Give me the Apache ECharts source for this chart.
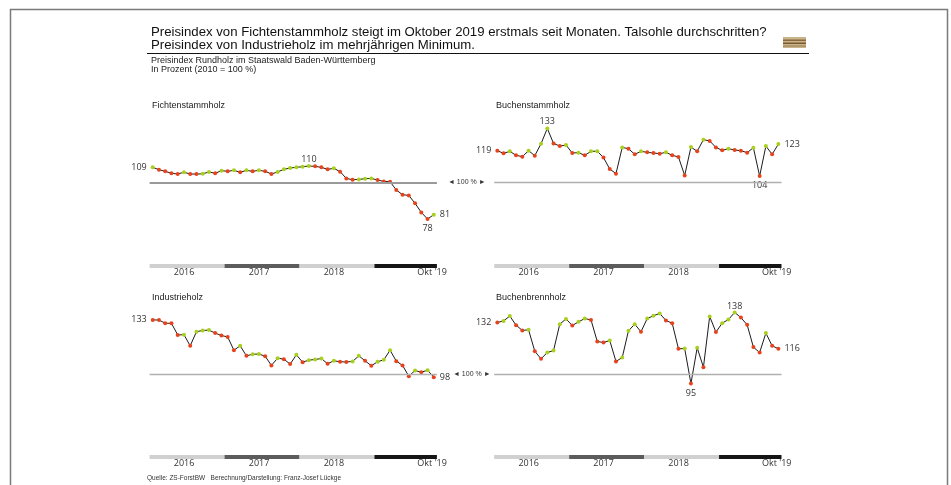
<!DOCTYPE html>
<html>
<head>
<meta charset="utf-8">
<script src="https://cdn.jsdelivr.net/npm/echarts@6/dist/echarts.min.js"></script>
<style>
html,body{margin:0;padding:0;background:#fff;}
#chart{width:951px;height:485px;}
</style>
</head>
<body>
<div id="chart"></div>
<script>
// Jahres-Balken unter den Kurven
var years = ['2016', '2017', '2018', "Okt '19"];
var yearMonths = [12, 12, 12, 10];
var yearColors = ['#d0d0d0', '#5c5c5c', '#d0d0d0', '#151515'];

// Preisindex (2010 = 100), Jan 2016 - Okt 2019
var fichte = [109.3,107.9,106.9,105.7,105.3,106.3,105.3,105.2,105.4,106.5,
	105.7,107.3,106.9,107.5,106.3,107.5,106.9,107.5,106.9,105.3,
	106.5,108.1,108.9,109.3,109.7,110.1,109.9,109.3,108.1,108.7,
	106.7,102.6,101.8,102.0,102.4,102.6,101.6,100.8,100.6,95.6,
	92.7,92.3,87.5,82.0,78.0,80.6];
var buchenstamm = [119.4,117.8,119.0,116.6,115.8,119.4,116.4,123.6,132.9,123.8,
	122.2,122.8,118.0,118.2,116.6,119.0,119.1,115.2,108.3,105.5,
	121.4,120.6,117.2,119.0,118.4,118.0,117.6,118.4,116.6,115.6,
	104.4,121.6,119.0,126.1,125.3,121.4,119.6,120.6,119.8,119.4,
	118.2,121.2,104.0,122.2,117.2,123.4];
var industrie = [133.1,133.0,131.1,131.0,124.0,124.1,117.4,125.9,126.7,126.9,
	125.1,123.6,122.8,114.7,117.4,111.3,112.3,112.4,111.1,105.5,
	109.9,109.3,106.3,111.9,107.5,108.7,109.1,109.7,106.5,108.3,
	107.7,107.6,107.9,111.3,108.3,105.3,107.7,108.9,114.7,108.1,
	105.5,99.0,102.4,101.4,102.6,98.4];
var brennholz = [131.5,132.5,135.4,129.9,126.7,127.1,114.1,109.5,113.3,114.5,
	130.5,133.7,129.7,131.9,133.9,133.1,120.0,119.4,120.6,107.9,
	110.3,126.5,130.5,125.9,133.9,135.6,137.0,132.7,131.1,115.6,
	115.7,94.5,116.2,104.4,135.2,125.7,131.1,133.3,137.6,134.5,
	130.1,116.6,113.3,125.1,117.4,115.6];

// erster Punkt: gestiegen gegenueber Vormonat?
var firstUp = [true, false, false, false];
// beschriftete Punkte [index, position]
var fichteLabels = [[0,'left'],[25,'top'],[44,'bottom'],[45,'right']];
var buchenstammLabels = [[0,'left'],[8,'top'],[42,'bottom'],[45,'right']];
var industrieLabels = [[0,'left'],[45,'right']];
var brennholzLabels = [[0,'left'],[38,'top'],[31,'bottom'],[45,'right']];

var panelNames = ['Fichtenstammholz', 'Buchenstammholz', 'Industrieholz', 'Buchenbrennholz'];

var months = [];
for (var y = 0; y < years.length; y++) {
	for (var m = 1; m <= yearMonths[y]; m++) {
		months.push((2016 + y) + '-' + m);
	}
}

var GREEN = '#a8d01c', RED = '#e8421c';
var numFont = '"Open Sans", "Liberation Sans", sans-serif';
var txtFont = '"Liberation Sans", Arial, sans-serif';

var panelLeft = [149.6, 494.2, 149.6, 494.2];
var panelTop = [116.7, 116.7, 308.5, 308.5];
var barTop = [264, 264, 455, 455];
var panelW = 287.3, panelH = 115.5;

function $each(arr, fn){ for (var i = 0; i < arr.length; i++) fn(arr[i], i); }

function buildData(values, up0, labels) {
	var out = [];
	var lab = {};
	$each(labels, function(l){ lab[l[0]] = l[1]; });
	for (var i = 0; i < values.length; i++) {
		var up = i == 0 ? up0 : values[i] > values[i-1];
		var item = {value: values[i], itemStyle: {color: up ? GREEN : RED}};
		if (lab[i] != null) {
			var d = 3;
			if (lab[i] == 'left' || lab[i] == 'right') d = 4;
			if (lab[i] == 'top') d = 0;
			item.label = {show: true, position: lab[i], distance: d};
		}
		out.push(item);
	}
	return out;
}

var allData = [fichte, buchenstamm, industrie, brennholz];
var allLabels = [fichteLabels, buchenstammLabels, industrieLabels, brennholzLabels];

var grid = [], xAxis = [], yAxis = [], series = [];
$each(allData, function(values, i){
	grid.push({left: panelLeft[i], top: panelTop[i], width: panelW, height: panelH});
	xAxis.push({gridIndex: i, type: 'category', data: months, boundaryGap: true, show: false});
	yAxis.push({gridIndex: i, type: 'value', min: 70, max: 140, show: false});
	series.push({
		name: panelNames[i],
		type: 'line',
		xAxisIndex: i,
		yAxisIndex: i,
		data: buildData(values, firstUp[i], allLabels[i]),
		symbol: 'circle',
		symbolSize: 4,
		showAllSymbol: true,
		lineStyle: {color: '#1c1c1c', width: 1},
		label: {
			show: false,
			fontFamily: numFont,
			fontSize: 9,
			color: '#333',
			formatter: function(p){ return Math.round(p.value); }
		},
		markLine: {
			silent: true,
			symbol: ['none', 'none'],
			label: {show: false},
			lineStyle: {color: i == 0 ? '#9a9a9a' : '#b0b0b0', width: i == 0 ? 2 : 1.3, type: 'solid'},
			data: [{yAxis: 100}]
		},
		z: 3
	});
});

// Jahresbalken
$each(allData, function(values, i){
	var gi = 4 + i;
	grid.push({left: panelLeft[i], top: barTop[i], width: panelW, height: 4});
	xAxis.push({gridIndex: gi, type: 'value', min: 0, max: months.length, show: false});
	yAxis.push({gridIndex: gi, type: 'category', data: ['Jahr'], show: false});
	$each(years, function(yr, k){
		var last = k == years.length - 1;
		series.push({
			name: yr,
			type: 'bar',
			xAxisIndex: gi,
			yAxisIndex: gi,
			stack: 'jahr' + i,
			barWidth: 4,
			data: [yearMonths[k]],
			itemStyle: {color: yearColors[k]},
			label: {
				show: true,
				formatter: yr,
				position: last ? ['100%', '100%'] : 'bottom',
				align: last ? 'right' : 'center',
				verticalAlign: 'top',
				offset: last ? [10, 0] : [-3, 0],
				distance: 0,
				fontFamily: numFont,
				fontSize: 9,
				color: '#333'
			}
		});
	});
});

var graphic = [
	// Rahmen
	{type: 'polyline', shape: {points: [[10.5,485],[10.5,9.5],[947.5,9.5],[947.5,485]]},
		style: {stroke: '#7a7a7a', lineWidth: 1.5, fill: null}},
	{type: 'text', left: 151, top: 25.5, style: {text: 'Preisindex von Fichtenstammholz steigt im Oktober 2019 erstmals seit Monaten. Talsohle durchschritten?\nPreisindex von Industrieholz im mehrjährigen Minimum.', font: '13.2px ' + txtFont, fill: '#111', lineHeight: 13}},
	{type: 'line', shape: {x1: 147, y1: 53.5, x2: 809, y2: 53.5}, style: {stroke: '#111', lineWidth: 1}},
	{type: 'text', left: 151, top: 56, style: {text: 'Preisindex Rundholz im Staatswald Baden-Württemberg\nIn Prozent (2010 = 100 %)', font: '9px ' + txtFont, fill: '#222', lineHeight: 9}},
	{type: 'text', left: 152, top: 101, style: {text: panelNames[0], font: '9px ' + txtFont, fill: '#222'}},
	{type: 'text', left: 496, top: 101, style: {text: panelNames[1], font: '9px ' + txtFont, fill: '#222'}},
	{type: 'text', left: 152, top: 293, style: {text: panelNames[2], font: '9px ' + txtFont, fill: '#222'}},
	{type: 'text', left: 496, top: 293, style: {text: panelNames[3], font: '9px ' + txtFont, fill: '#222'}},
	{type: 'text', left: 448, top: 179, style: {text: '◄ 100 % ►', font: '7px ' + txtFont, fill: '#333'}},
	{type: 'text', left: 453, top: 371, style: {text: '◄ 100 % ►', font: '7px ' + txtFont, fill: '#333'}},
	{type: 'text', left: 147, top: 475, style: {text: 'Quelle: ZS-ForstBW   Berechnung/Darstellung: Franz-Josef Lückge', font: '6.5px ' + txtFont, fill: '#333'}},
	// kleines Holz-Symbol oben rechts
	{type: 'rect', shape: {x: 783, y: 37, width: 23, height: 11}, style: {fill: '#c9b48c'}},
	{type: 'rect', shape: {x: 783, y: 39.5, width: 23, height: 1.5}, style: {fill: '#8a6a3c'}},
	{type: 'rect', shape: {x: 783, y: 42.5, width: 23, height: 1.5}, style: {fill: '#7a5a30'}},
	{type: 'rect', shape: {x: 783, y: 45.5, width: 23, height: 1}, style: {fill: '#9a7c4e'}}
];

var myChart = echarts.init(document.getElementById('chart'));
myChart.setOption({
	animation: false,
	backgroundColor: '#fff',
	grid: grid,
	xAxis: xAxis,
	yAxis: yAxis,
	series: series,
	graphic: graphic
});
</script>
</body>
</html>
